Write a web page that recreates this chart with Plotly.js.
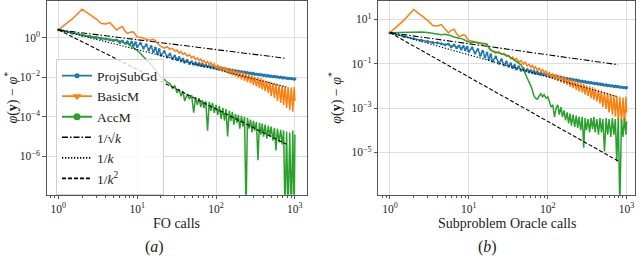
<!DOCTYPE html>
<html><head><meta charset="utf-8">
<script src="https://cdn.plot.ly/plotly-3.0.1.min.js"></script>
<style>html,body{margin:0;padding:0;background:#fff}#chart{width:640px;height:256px}</style>
</head><body><div id="chart"></div>
<script>
// oracle-call counts (shared x grid)
const calls = [1,1.5,2,2.5,3,3.5,4,4.5,5,5.5,
6,6.5,7,7.5,8,8.5,9,9.5,10,11,
12,13,14,15,16,17,18,19,20,22,
24,26,28,30,32,34,36,38,40,43,
46,49,52,55,58,61,64,67,70,74,
78,82,86,90,95,100,105,110,116,122,
128,134,140,147,154,161,168,176,184,192,
200,210,220,230,240,250,262,274,286,298,
310,325,340,355,370,385,400,420,440,460,
480,500,525,550,575,600,630,660,690,720,
750,785,820,860,900,940,980,1000];

// ProjSubGd (same in both panels)
const projSubGd = [2.5,1.66,1.32,1.15,1.0,0.91,0.87,0.79,0.72,0.76,
0.58,0.69,0.52,0.63,0.46,0.60,0.42,0.55,0.36,0.52,
0.30,0.44,0.24,0.36,0.20,0.30,0.16,0.25,0.13,0.20,
0.105,0.15,0.087,0.12,0.076,0.10,0.066,0.083,0.058,0.072,
0.050,0.060,0.045,0.054,0.042,0.049,0.039,0.045,0.036,0.042,
0.034,0.038,0.032,0.035,0.030,0.032,0.028,0.030,0.026,0.028,
0.025,0.026,0.023,0.025,0.022,0.023,0.020,0.022,0.0195,0.021,
0.0186,0.0195,0.0174,0.0186,0.0166,0.0174,0.0158,0.0166,0.0148,0.0158,
0.0141,0.0148,0.0135,0.0141,0.0129,0.0135,0.0123,0.0129,0.0117,0.0123,
0.0112,0.0117,0.0107,0.0112,0.0102,0.0107,0.0098,0.0102,0.0093,0.0098,
0.0091,0.0093,0.0087,0.0089,0.0083,0.0085,0.0079,0.0083];

// BasicM (same in both panels)
const basicM = [2.5,8.9,28,15,8.9,5.2,5.0,5.8,3.5,2.45,
3.2,3.6,2.2,1.66,1.82,2.0,1.9,1.32,1.1,1.05,
0.91,0.83,0.79,0.76,0.83,0.72,0.52,0.43,0.36,0.30,
0.35,0.26,0.29,0.21,0.24,0.166,0.20,0.145,0.174,0.12,
0.138,0.095,0.115,0.079,0.095,0.069,0.083,0.058,0.072,0.050,
0.063,0.044,0.055,0.038,0.048,0.0275,0.042,0.023,0.036,0.020,
0.033,0.0174,0.029,0.0145,0.026,0.0126,0.024,0.011,0.021,0.0091,
0.019,0.0079,0.0174,0.0066,0.0151,0.0056,0.0138,0.005,0.012,0.004,
0.0105,0.0035,0.0095,0.0028,0.0087,0.0024,0.0076,0.002,0.0066,0.0016,
0.006,0.0011,0.0052,0.0009,0.0048,0.00063,0.0042,0.0005,0.0038,0.0004,
0.0035,0.00028,0.0032,0.00022,0.003,0.00018,0.0033,0.00063];

// AccM vs FO calls (panel a)
const accMFO = [2.5,1.74,1.38,1.2,1.1,1.0,0.93,0.87,0.79,0.76,
0.69,0.63,0.52,0.5,0.44,0.35,0.30,0.275,0.23,0.158,
0.105,0.079,0.058,0.044,0.033,0.024,0.0166,0.012,0.01,0.0079,
0.0056,0.0048,0.0028,0.0038,0.0016,0.0025,0.0011,0.002,0.00063,0.0014,
0.00079,0.00126,0.00016,0.001,0.0004,0.00089,0.00032,0.0007,0.00028,0.00063,
2e-5,0.00056,0.0002,0.0005,0.00016,0.0004,0.000126,0.00035,7.9e-5,0.00028,
6.3e-5,0.00025,1e-5,0.0002,6.3e-5,0.000178,4e-5,0.00014,5e-5,0.000126,
2.5e-5,0.000112,3.2e-5,1e-4,1e-9,8.9e-5,2.5e-5,7.1e-5,1.6e-5,6.3e-5,
2e-5,5.6e-5,6.3e-7,5e-5,1.26e-5,4.5e-5,1e-5,4e-5,7.9e-6,3.5e-5,
1e-5,3.2e-5,6.3e-6,2.8e-5,2e-6,2.5e-5,5e-6,2.2e-5,4e-6,2e-5,
1e-9,1.8e-5,1e-9,1.6e-5,1e-9,2e-5,1e-9,1.26e-5];

// AccM vs subproblem oracle calls (panel b)
const accMSO = [2.5,2.6,2.75,2.7,2.57,2.3,2.14,2.04,2.14,2.0,
1.82,1.58,1.45,1.41,1.38,1.26,1.12,1.0,0.95,0.93,
0.95,0.89,0.87,0.83,0.81,0.76,0.5,0.4,0.37,0.34,
0.30,0.28,0.26,0.24,0.22,0.19,0.17,0.141,0.126,0.11,
0.089,0.056,0.035,0.025,0.0178,0.01,0.0063,0.0035,0.0028,0.0025,
0.0035,0.0044,0.0032,0.004,0.0028,0.0032,0.002,0.0011,0.0014,0.0004,
0.001,0.0014,0.0005,0.0011,0.0004,0.00079,0.00028,0.00063,0.0002,0.00056,
0.00016,0.0005,0.00014,0.00045,0.000126,0.0004,0.0001,0.0004,1.6e-5,0.00035,
0.0001,0.00032,7.9e-5,0.00035,0.000112,0.0004,7.9e-5,0.00032,6.3e-5,0.00035,
7.9e-5,0.00032,1.1e-5,0.00035,6.3e-5,0.00032,5e-5,0.00035,6.3e-5,0.00032,
4e-6,0.00035,3e-8,0.00032,5e-5,0.00035,6.3e-5,0.00025];

// reference rates
const refCalls = [1, 780];
const refSqrt = [2.5, 0.09];
const refInv = [2.5, 0.0032];
const refInv2 = [2.5, 4.1e-6];

const xTickVals = [1, 10, 100, 1000];
const xTickText = ['10<sup>0</sup>','10<sup>1</sup>','10<sup>2</sup>','10<sup>3</sup>'];
const yTickValsA = [1, 1e-2, 1e-4, 1e-6];
const yTickTextA = ['10<sup>0</sup>','10<sup>−2</sup>','10<sup>−4</sup>','10<sup>−6</sup>'];
const yTickValsB = [10, 1e-1, 1e-3, 1e-5];
const yTickTextB = ['10<sup>1</sup>','10<sup>−1</sup>','10<sup>−3</sup>','10<sup>−5</sup>'];

const methodNames = ['ProjSubGd','BasicM','AccM'];
const refNames = ['1/√<i>k</i>','1/<i>k</i>','1/<i>k</i><sup>2</sup>'];
const xTitles = ['FO calls', 'Subproblem Oracle calls'];
const yTitle = '<i>φ</i>(<b>y</b>) − <i>φ</i><sup>*</sup>';
const captions = ['(<i>a</i>)', '(<i>b</i>)'];

const C = {blue:'#1f77b4', orange:'#ff7f0e', green:'#2ca02c'};
const FONT = '"Liberation Serif", "DejaVu Serif", serif';
const DASHDOT = '6px,2px,1.5px,2px';
const DOT = '1.3px,1.7px';
const DASH = '4px,2px';

const traces = [];
// legend entries
traces.push({x:[null], y:[null], name:methodNames[0], mode:'lines+markers', line:{color:C.blue,width:1.8}, marker:{symbol:'circle',size:5,color:C.blue}, xaxis:'x', yaxis:'y'});
traces.push({x:[null], y:[null], name:methodNames[1], mode:'lines+markers', line:{color:C.orange,width:1.8}, marker:{symbol:'triangle-down',size:8,color:C.orange}, xaxis:'x', yaxis:'y'});
traces.push({x:[null], y:[null], name:methodNames[2], mode:'lines+markers', line:{color:C.green,width:1.8}, marker:{symbol:'circle',size:7,color:C.green}, xaxis:'x', yaxis:'y'});
traces.push({x:[null], y:[null], name:refNames[0], mode:'lines', line:{color:'#000',width:1.6,dash:DASHDOT}, xaxis:'x', yaxis:'y'});
traces.push({x:[null], y:[null], name:refNames[1], mode:'lines', line:{color:'#000',width:1.6,dash:DOT}, xaxis:'x', yaxis:'y'});
traces.push({x:[null], y:[null], name:refNames[2], mode:'lines', line:{color:'#000',width:1.6,dash:DASH}, xaxis:'x', yaxis:'y'});

function panel(xa, ya, accM) {
  traces.push({x:calls, y:projSubGd, mode:'lines+markers', line:{color:C.blue,width:1.5}, marker:{size:3,color:C.blue}, showlegend:false, xaxis:xa, yaxis:ya});
  traces.push({x:calls, y:basicM, mode:'lines', line:{color:C.orange,width:1.5}, showlegend:false, xaxis:xa, yaxis:ya});
  traces.push({x:calls, y:accM, mode:'lines', line:{color:C.green,width:1.5}, showlegend:false, xaxis:xa, yaxis:ya});
  traces.push({x:refCalls, y:refSqrt, mode:'lines', line:{color:'#000',width:1.1,dash:DASHDOT}, showlegend:false, xaxis:xa, yaxis:ya});
  traces.push({x:refCalls, y:refInv, mode:'lines', line:{color:'#000',width:1.1,dash:DOT}, showlegend:false, xaxis:xa, yaxis:ya});
  traces.push({x:refCalls, y:refInv2, mode:'lines', line:{color:'#000',width:1.1,dash:DASH}, showlegend:false, xaxis:xa, yaxis:ya});
}
panel('x','y',accMFO);
panel('x2','y2',accMSO);

const axisCommon = {
  type:'log', showline:true, mirror:true, linecolor:'#555', linewidth:1,
  showgrid:true, gridcolor:'#dedede', gridwidth:1, zeroline:false,
  ticks:'outside', ticklen:3.5, tickcolor:'#555', tickmode:'array',
  tickfont:{family:FONT, size:11.5, color:'#222'}
};
const xMinor = {dtick:'D1', ticks:'outside', ticklen:2, tickcolor:'#555', showgrid:false};
const titleFont = {family:FONT, size:14, color:'#222'};
const capFont = {family:FONT, size:16, color:'#222'};

function ann(text, x, y, font, angle) {
  return {text:text, xref:'paper', yref:'paper', x:x, y:y, xanchor:'center', yanchor:'middle',
    showarrow:false, font:font, textangle:angle || 0};
}

const layout = {
  width:640, height:256, margin:{l:0,r:0,t:0,b:0},
  paper_bgcolor:'#fff', plot_bgcolor:'#fff', showlegend:true,
  font:{family:FONT, color:'#222'},
  xaxis: Object.assign({}, axisCommon, {domain:[0.073,0.479], range:[-0.148,3.148], anchor:'y',
    tickvals:xTickVals, ticktext:xTickText, minor:xMinor}),
  yaxis: Object.assign({}, axisCommon, {domain:[0.2395,0.996], range:[-7.94,1.856], anchor:'x',
    tickvals:yTickValsA, ticktext:yTickTextA}),
  xaxis2: Object.assign({}, axisCommon, {domain:[0.591,0.992], range:[-0.148,3.105], anchor:'y2',
    tickvals:xTickVals, ticktext:xTickText, minor:xMinor}),
  yaxis2: Object.assign({}, axisCommon, {domain:[0.2395,0.996], range:[-6.91,1.825], anchor:'x2',
    tickvals:yTickValsB, ticktext:yTickTextB}),
  legend:{x:0.0875, y:0.768, xanchor:'left', yanchor:'top', bgcolor:'rgba(255,255,255,0.8)',
    bordercolor:'#d0d0d0', borderwidth:1, font:{family:FONT,size:13.5,color:'#222'}},
  annotations:[
    ann(yTitle, 0.018, 0.617, titleFont, -90),
    ann(yTitle, 0.523, 0.617, titleFont, -90),
    ann(xTitles[0], 0.276, 0.128, titleFont),
    ann(xTitles[1], 0.792, 0.128, titleFont),
    ann(captions[0], 0.242, 0.034, capFont),
    ann(captions[1], 0.761, 0.034, capFont)
  ]
};

Plotly.newPlot('chart', traces, layout, {staticPlot:true, displayModeBar:false});
</script>
</body></html>
